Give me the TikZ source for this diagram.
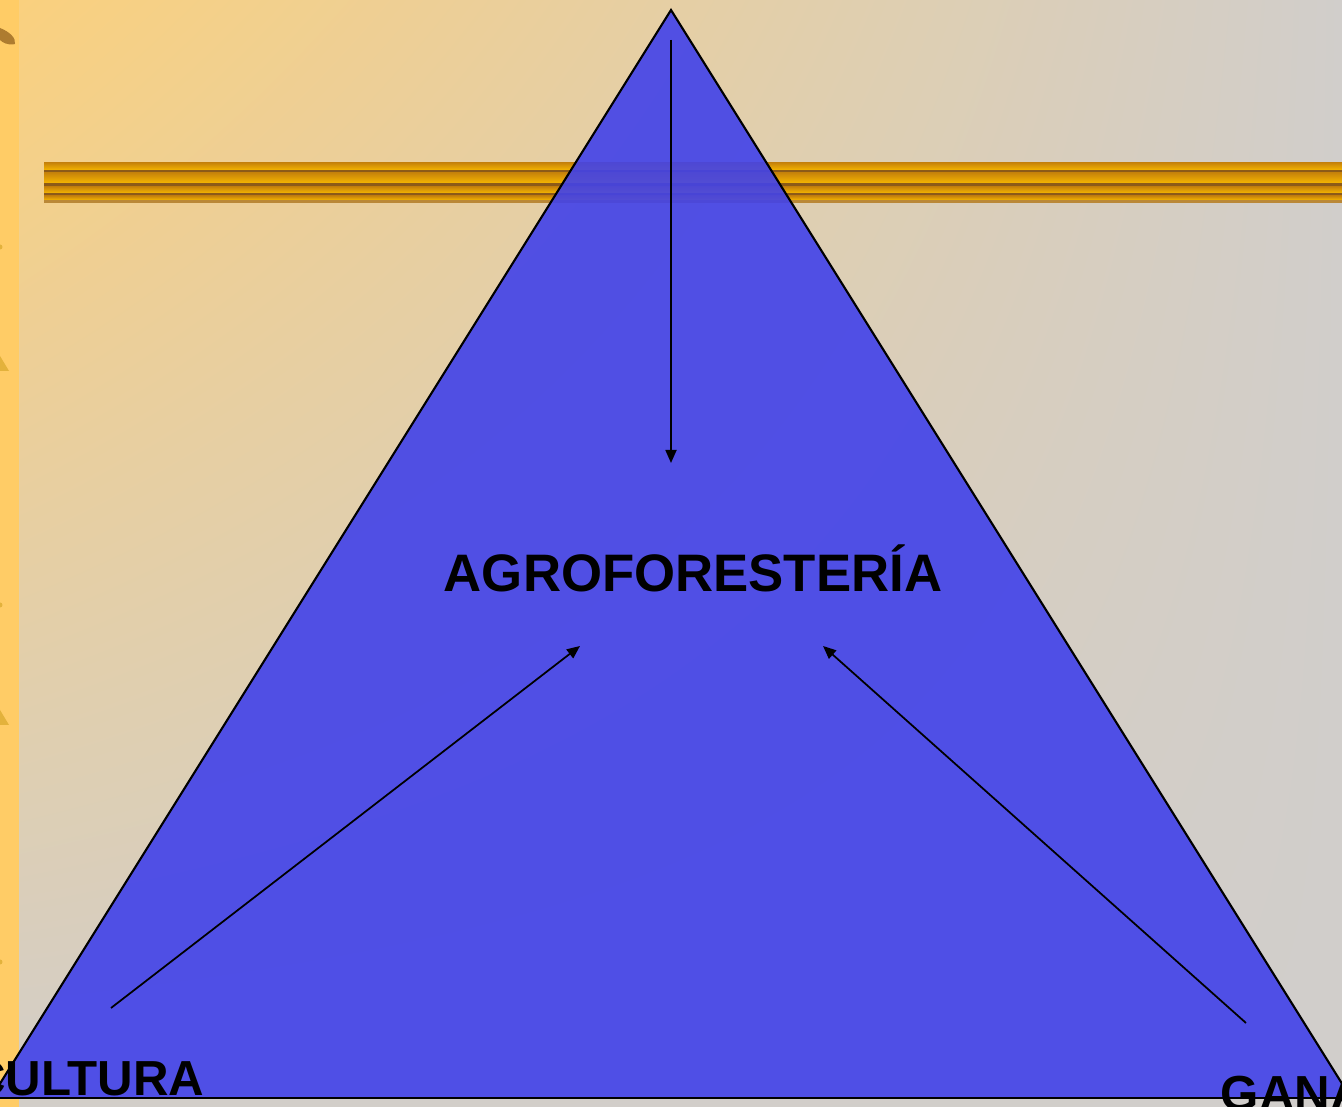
\documentclass[tikz,border=0pt]{standalone}
\usepackage{fontspec}
\setmainfont{Liberation Sans}
\usetikzlibrary{arrows.meta,shadings}
\definecolor{stripyellow}{HTML}{FFCC66}
\definecolor{stripmark}{HTML}{E3B23C}
\definecolor{bgorange}{HTML}{FAD07E}
\definecolor{bgbeige}{HTML}{E2CCA8}
\definecolor{bggray}{HTML}{D1CECB}
\definecolor{barbrown}{HTML}{8C5A18}
\definecolor{barorange}{HTML}{F2A200}
\definecolor{pyramidblue}{HTML}{4142EA}

\begin{document}
\begin{tikzpicture}[x=0.01cm,y=-0.01cm,>={Triangle[length=1.3mm,width=1.1mm]},
  edge/.style={black,line width=0.6pt},
  flow/.style={->,black,line width=0.5pt},
  lbl/.style={font=\fontsize{15}{18}\selectfont\bfseries,inner sep=0pt},
  corner/.style={font=\fontsize{14}{17}\selectfont\bfseries,inner sep=0pt}]
\useasboundingbox (0,0) rectangle (1342,1107);
\clip (0,0) rectangle (1342,1107);
% background and side strip
\shade[upper left=bgorange,upper right=bggray,lower left=bggray!97!bgorange,lower right=bggray]
  (19,0) rectangle (1342,1107);
\fill[stripyellow] (0,0) rectangle (19,1107);
\fill[barbrown!70!stripyellow] (0,28) .. controls (10,32) and (16,38) .. (15,44)
  .. controls (8,46) and (2,42) .. (0,40) -- cycle;
\foreach \y in {247,605,962}
  \fill[stripmark] (0,\y) circle (2.5);
\foreach \y in {356,710}
  \fill[stripmark] (0,\y) -- (9,\y+15) -- (0,\y+15) -- cycle;
% striped bar
\fill[barbrown] (44,163) rectangle (1342,203);
\foreach \a/\b in {163/170,173/183,187/193,196/200}
  \shade[top color=barbrown!40!barorange,bottom color=barorange!80!yellow]
    (44,\a) rectangle (1342,\b);
\fill[barbrown!60!stripyellow] (44,200) rectangle (1342,203);
% pyramid
\coordinate (apex) at (671,10);
\coordinate (baseL) at (-9,1098);
\coordinate (baseR) at (1351,1098);
\fill[pyramidblue,fill opacity=0.9] (apex) -- (baseL) -- (baseR) -- cycle;
\draw[edge] (baseL) -- (apex) -- (baseR);
\draw[edge] (0,1098) -- (1342,1098);
% labels
\node[lbl] (agro) at (693,568) {AGROFORESTERÍA};
\node[corner,anchor=base east] (agri) at (205,1096) {CULTURA};
\node[corner,anchor=base west] (gana) at (1220,1111) {GANA};
% arrows
\coordinate (topin) at (671,40);
\coordinate (toptip) at (671,463);
\coordinate (leftin) at (111,1008);
\coordinate (lefttip) at (580,646);
\coordinate (rightin) at (1246,1023);
\coordinate (righttip) at (823,646);
\draw[flow] (topin) -- (toptip);
\draw[flow] (leftin) -- (lefttip);
\draw[flow] (rightin) -- (righttip);
\end{tikzpicture}
\end{document}
